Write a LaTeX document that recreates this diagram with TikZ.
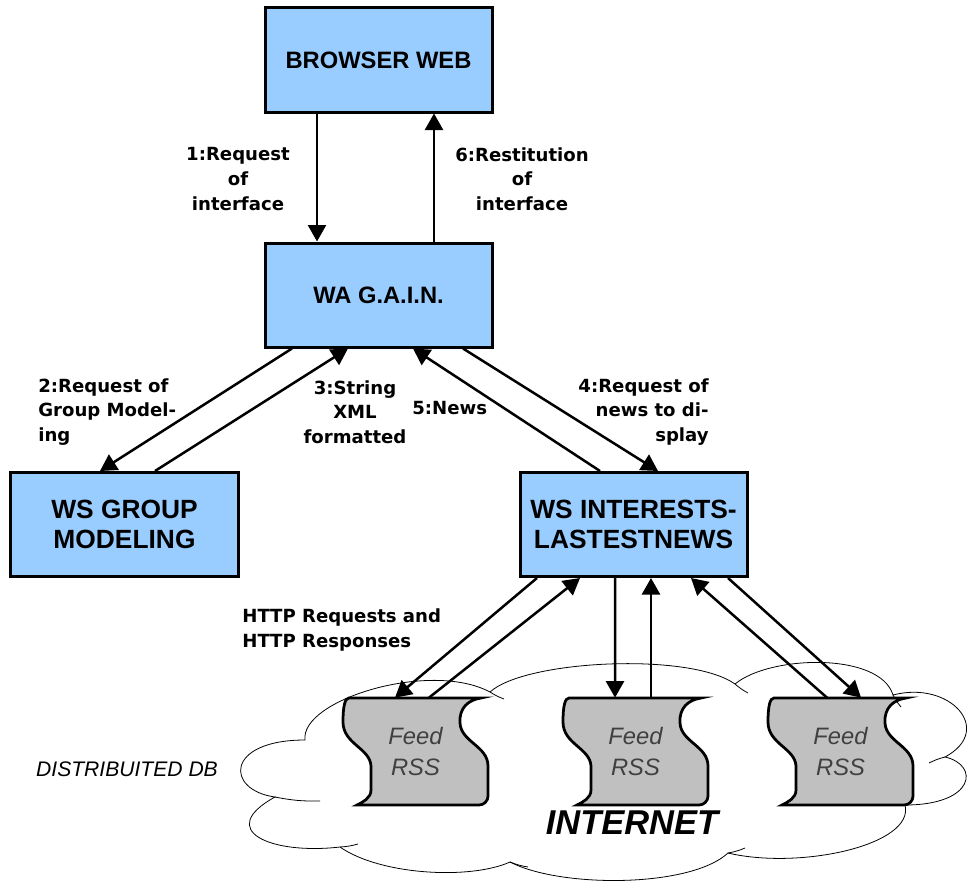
\documentclass[tikz,border=0pt]{standalone}
\usepackage{fontspec}
\setmainfont{Liberation Sans}
\newfontfamily\labelfont{DejaVu Sans}
\usepackage{xcolor}
\usepackage{tikz}
\usetikzlibrary{arrows.meta,positioning}
\definecolor{boxblue}{HTML}{99CCFF}
\definecolor{feedgray}{HTML}{C0C0C0}

\begin{document}
\begin{tikzpicture}[
  x=0.2mm, y=-0.2mm,
  node distance=25.6mm,
  box/.style={draw, line width=0.6mm, fill=boxblue, align=center,
              minimum width=45.4mm, minimum height=20.8mm,
              font=\fontsize{13.5}{17}\selectfont\bfseries},
  wsbox/.style={box, font=\fontsize{15}{17}\selectfont\bfseries},
  lbl/.style={inner sep=0pt, font=\labelfont\fontsize{10.3}{14}\selectfont\bfseries},
  arr/.style={-{Triangle[length=3.3mm, width=3.6mm]}, line width=0.5mm},
  feedline/.style={draw, line width=0.55mm, fill=feedgray},
  feedtxt/.style={minimum width=29mm, minimum height=21.4mm, inner sep=0pt,
                  align=center, text=black!75,
                  font=\fontsize{13.5}{17.6}\selectfont\itshape},
  cloudline/.style={line width=0.45pt}
]
\useasboundingbox[fill=white] (0,0) rectangle (967,883);

% internet cloud
\draw[cloudline, fill=white] (305,740)
  .. controls (300,700) and (430,660) .. (490,692)
  .. controls (525,660) and (690,652) .. (735,684)
  .. controls (770,655) and (880,652) .. (893,695)
  .. controls (950,680) and (995,730) .. (945,757)
  .. controls (980,765) and (975,805) .. (905,805)
  .. controls (915,845) and (800,870) .. (728,853)
  .. controls (690,888) and (560,888) .. (510,862)
  .. controls (470,880) and (380,875) .. (340,847)
  .. controls (270,855) and (215,830) .. (275,797)
  .. controls (225,790) and (225,740) .. (305,740)
  -- cycle;
\foreach \ax/\ay/\bx/\by in {490/692/504/699, 735/684/748/693, 893/695/901/707,
    945/757/929/763, 905/805/889/799, 728/853/745/848, 510/862/528/867,
    340/847/358/844, 275/797/320/801}
  \draw[cloudline] (\ax,\ay) to[bend right=6] (\bx,\by);

% rss feeds
\foreach \fx/\nm in {343/feed1, 563/feed2, 768/feed3} {
  \draw[feedline, shift={(\fx,698)}] (6,0) -- (138,0)
    .. controls (125,2) and (116,10) .. (117,25)
    .. controls (118,44) and (145,48) .. (145,68) -- (145,98)
    .. controls (145,103) and (141,107) .. (136,107) -- (14,107)
    .. controls (20,104) and (28,100) .. (28,92) -- (28,68)
    .. controls (27,50) and (0,46) .. (0,24)
    .. controls (0,8) and (2,0) .. (6,0) -- cycle;
  \node[feedtxt] (\nm) at (\fx+72.5,751.5) {Feed\\RSS};
}

% components
\node[box] (browser) at (378.5,60) {BROWSER WEB};
\node[box, below=of browser] (gain) {WA G.A.I.N.};
\node[wsbox] (groupm) at (124.5,524.5) {WS GROUP\\MODELING};
\node[wsbox] (interests) at (633.5,524.5) {WS INTERESTS-\\LASTESTNEWS};

% calls
\draw[arr] ([xshift=-12.3mm]browser.south) -- ([xshift=-12.3mm]gain.north);
\draw[arr] ([xshift=11.1mm]gain.north) -- ([xshift=11.1mm]browser.south);
\draw[arr] ([xshift=-17.3mm]gain.south) -- ([xshift=-4.9mm]groupm.north);
\draw[arr] ([xshift=6.1mm]groupm.north) -- ([xshift=-6.1mm]gain.south);
\draw[arr] ([xshift=16.9mm]gain.south) -- ([xshift=4.9mm]interests.north);
\draw[arr] ([xshift=-6.7mm]interests.north) -- ([xshift=6.9mm]gain.south);
\draw[arr] ([xshift=-19.3mm]interests.south) -- ([xshift=-4.1mm]feed1.north);
\draw[arr] ([xshift=2.7mm]feed1.north) -- ([xshift=-10.7mm]interests.south);
\draw[arr] ([xshift=-3.7mm]interests.south) -- ([xshift=-4.1mm]feed2.north);
\draw[arr] ([xshift=3.1mm]feed2.north) -- ([xshift=3.5mm]interests.south);
\draw[arr] ([xshift=-2.7mm]feed3.north) -- ([xshift=11.5mm]interests.south);
\draw[arr] ([xshift=18.9mm]interests.south) -- ([xshift=4.1mm]feed3.north);

% messages
\node[lbl, align=center] (req1) at (238,179) {1:Request\\of\\interface};
\node[lbl, align=center] (rest6) at (522,179) {6:Restitution\\of\\interface};
\node[lbl, align=left, anchor=west] (req2) at (38,412) {2:Request of\\Group Model-\\ing};
\node[lbl, align=center] (xml3) at (355,412) {3:String\\XML\\formatted};
\node[lbl, anchor=west] (news5) at (412,408.5) {5:News};
\node[lbl, align=right, anchor=east] (req4) at (709,412) {4:Request of\\news to di-\\splay};
\node[lbl, align=left, anchor=west] (http) at (242,630) {HTTP Requests and\\HTTP Responses};

% cloud captions
\node[anchor=west, font=\fontsize{12}{14}\selectfont\itshape] (ddb) at (30,769) {DISTRIBUITED DB};
\node[font=\fontsize{19.6}{23}\selectfont\bfseries\itshape] (inet) at (632,823) {INTERNET};
\end{tikzpicture}
\end{document}
